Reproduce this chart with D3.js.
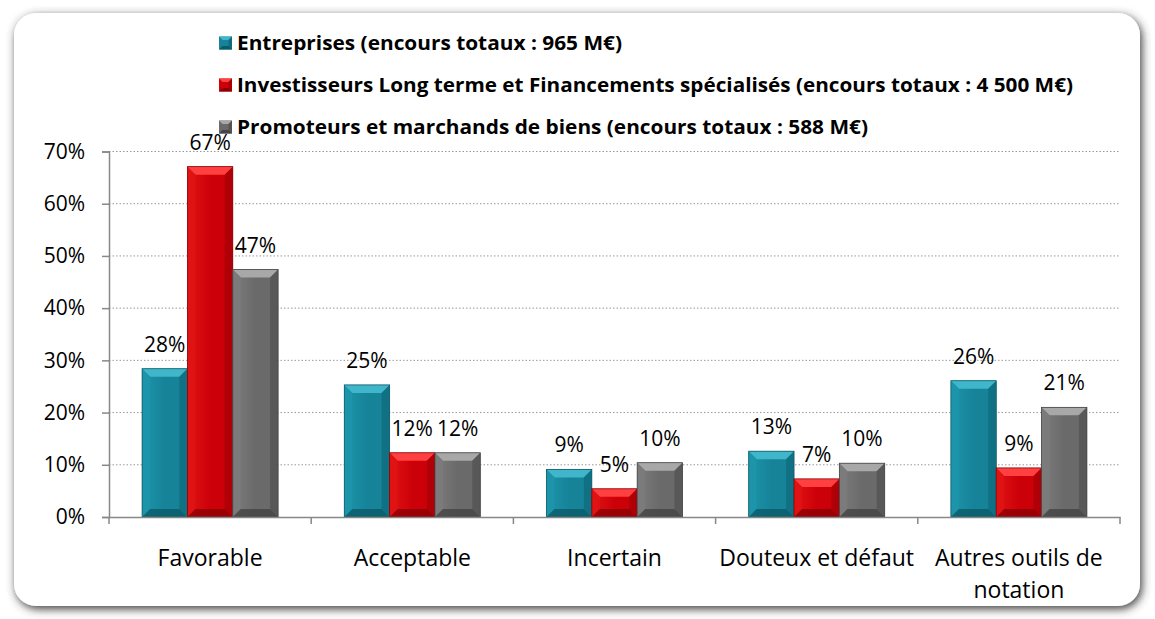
<!DOCTYPE html>
<html lang="fr">
<head>
<meta charset="UTF-8">
<title>Répartition des encours par notation</title>
<script src="https://d3js.org/d3.v7.min.js"></script>
<style>
  body { margin: 0; background: #fff; }
  svg text { font-family: "Open Sans", "Lato", sans-serif; fill: #000; }
  .legend text { font-weight: bold; font-size: 19px; }
  .axis-y text, .label { font-size: 21px; }
  .axis-x text { font-size: 23px; }
</style>
</head>
<body>
<svg id="chart"></svg>
<script>
// catégories et séries
var categories = ["Favorable", "Acceptable", "Incertain", "Douteux et défaut", "Autres outils de notation"];
var seriesNames = [
  "Entreprises (encours totaux : 965 M€)",
  "Investisseurs Long terme et Financements spécialisés (encours totaux : 4 500 M€)",
  "Promoteurs et marchands de biens (encours totaux : 588 M€)"
];
var entreprises = [28.4, 25.3, 9.1, 12.6, 26.1];
var investisseurs = [67.1, 12.3, 5.4, 7.3, 9.4];
var promoteurs = [47.4, 12.3, 10.4, 10.3, 21.0];
var yTicks = [0, 10, 20, 30, 40, 50, 60, 70];

var width = 1155, height = 619;
var margin = { left: 109, right: 35, top: 151.5, bottom: 102 };

var colors = [
  { face: "#168399", light: "#3fb6ca", mid: "#1d95aa", dark: "#0f6d7e", darker: "#0b5a68" },
  { face: "#cc0008", light: "#ff4040", mid: "#e01414", dark: "#a80007", darker: "#8c0005" },
  { face: "#6a6a6a", light: "#a8a8a8", mid: "#7c7c7c", dark: "#545454", darker: "#444444" }
];

var svg = d3.select("#chart").attr("width", width).attr("height", height);

// ombre du cadre
var defs = svg.append("defs");
var f = defs.append("filter").attr("id", "shadow")
  .attr("x", "-5%").attr("y", "-5%").attr("width", "110%").attr("height", "110%");
f.append("feDropShadow").attr("dx", 2).attr("dy", 3).attr("stdDeviation", 5)
  .attr("flood-color", "#333").attr("flood-opacity", 0.95);

// dégradé horizontal du visage des barres
colors.forEach(function(c, i) {
  var gr = defs.append("linearGradient").attr("id", "face" + i)
    .attr("x1", 0).attr("x2", 1).attr("y1", 0).attr("y2", 0);
  gr.append("stop").attr("offset", "0%").attr("stop-color", c.mid);
  gr.append("stop").attr("offset", "50%").attr("stop-color", c.face);
  gr.append("stop").attr("offset", "100%").attr("stop-color", c.face);
});

svg.append("rect")
  .attr("x", 14).attr("y", 13).attr("width", 1126).attr("height", 593)
  .attr("rx", 22).attr("ry", 22)
  .attr("fill", "#fff")
  .attr("filter", "url(#shadow)");

var data = [];
categories.forEach(function(c, i) {
  data.push({ cat: c, s: 0, v: entreprises[i] });
  data.push({ cat: c, s: 1, v: investisseurs[i] });
  data.push({ cat: c, s: 2, v: promoteurs[i] });
});

var x0 = d3.scaleBand().domain(categories)
  .range([margin.left, width - margin.right]);
var x1 = d3.scaleBand().domain([0, 1, 2])
  .range([0, x0.bandwidth()]).paddingOuter(0.73);
var y = d3.scaleLinear().domain([0, 70])
  .range([height - margin.bottom, margin.top]);

// grille pointillée
svg.append("g").selectAll("line")
  .data(yTicks.slice(1))
  .enter().append("line")
  .attr("x1", margin.left).attr("x2", width - margin.right)
  .attr("y1", function(d) { return y(d); })
  .attr("y2", function(d) { return y(d); })
  .attr("stroke", "#999").attr("stroke-width", 1)
  .attr("stroke-dasharray", "1.5,2");

// axe Y
var yAxis = svg.append("g").attr("class", "axis-y")
  .attr("transform", "translate(" + margin.left + ",0)")
  .call(d3.axisLeft(y).tickValues(yTicks).tickSize(7).tickPadding(17)
    .tickFormat(function(d) { return d + "%"; }));
yAxis.select(".domain").attr("stroke", "#888").attr("stroke-width", 1.5);
yAxis.selectAll(".tick line").attr("stroke", "#888").attr("stroke-width", 1.5);

// barres biseautées
var bev = 8;
function poly(pts) { return pts.map(function(p) { return p.join(","); }).join(" "); }

svg.append("g").selectAll("g")
  .data(data).enter().append("g")
  .each(function(d) {
    var g = d3.select(this);
    var c = colors[d.s];
    var x = x0(d.cat) + x1(d.s), w = x1.bandwidth();
    var top = y(d.v), bot = y(0);
    var b = Math.min(bev, (bot - top) / 2);
    g.append("rect").attr("x", x).attr("y", top).attr("width", w).attr("height", bot - top)
      .attr("fill", "url(#face" + d.s + ")");
    g.append("polygon").attr("points", poly([[x, top], [x + w, top], [x + w - b, top + b], [x + b, top + b]]))
      .attr("fill", c.light);
    g.append("polygon").attr("points", poly([[x, top], [x + b, top + b], [x + b, bot - b], [x, bot]]))
      .attr("fill", c.mid).attr("opacity", 0.8);
    g.append("polygon").attr("points", poly([[x + w, top], [x + w - b, top + b], [x + w - b, bot - b], [x + w, bot]]))
      .attr("fill", c.dark).attr("opacity", 0.8);
    g.append("polygon").attr("points", poly([[x, bot], [x + b, bot - b], [x + w - b, bot - b], [x + w, bot]]))
      .attr("fill", c.darker).attr("opacity", 0.8);
    g.append("rect").attr("x", x).attr("y", top).attr("width", w).attr("height", bot - top)
      .attr("fill", "none").attr("stroke", c.darker).attr("stroke-width", 0.8);
  });

// étiquettes de valeurs
svg.append("g").selectAll("text")
  .data(data).enter().append("text")
  .attr("class", "label")
  .attr("x", function(d) { return x0(d.cat) + x1(d.s) + x1.bandwidth() / 2; })
  .attr("y", function(d) { return y(d.v) - 17; })
  .attr("text-anchor", "middle")
  .text(function(d) { return Math.round(d.v) + "%"; });

// axe X
var xAxis = svg.append("g").attr("class", "axis-x")
  .attr("transform", "translate(0," + y(0) + ")")
  .call(d3.axisBottom(x0).tickSize(0).tickPadding(0));
xAxis.select(".domain").attr("stroke", "#888").attr("stroke-width", 1.5);
xAxis.selectAll(".tick text").remove();
var bounds = categories.map(function(c) { return x0(c); }).concat([x0.range()[1]]);
xAxis.selectAll(".sep").data(bounds).enter().append("line")
  .attr("x1", function(d) { return d; }).attr("x2", function(d) { return d; })
  .attr("y1", 0).attr("y2", 7).attr("stroke", "#888").attr("stroke-width", 1.5);

var catLines = [["Favorable"], ["Acceptable"], ["Incertain"], ["Douteux et défaut"], ["Autres outils de", "notation"]];
categories.forEach(function(c, i) {
  var cx = x0(c) + x0.bandwidth() / 2;
  var t = xAxis.append("text").attr("x", cx).attr("y", 49).attr("text-anchor", "middle");
  catLines[i].forEach(function(l, j) {
    t.append("tspan").attr("x", cx).attr("dy", j === 0 ? 0 : 32).text(l);
  });
});

// légende
var legend = svg.append("g").attr("class", "legend");
var legendY = [43, 85, 127];
var legendW = [385, 836, 631];
seriesNames.forEach(function(n, i) {
  var g = legend.append("g").attr("transform", "translate(219," + legendY[i] + ")");
  var c = colors[i];
  var s = 13, b = 3.5;
  g.append("rect").attr("x", 0).attr("y", -s / 2).attr("width", s).attr("height", s).attr("fill", c.face);
  g.append("polygon").attr("points", poly([[0, -s / 2], [s, -s / 2], [s - b, -s / 2 + b], [b, -s / 2 + b]])).attr("fill", c.light);
  g.append("polygon").attr("points", poly([[s, -s / 2], [s - b, -s / 2 + b], [s - b, s / 2 - b], [s, s / 2]])).attr("fill", c.dark);
  g.append("polygon").attr("points", poly([[0, s / 2], [b, s / 2 - b], [s - b, s / 2 - b], [s, s / 2]])).attr("fill", c.darker);
  g.append("text").attr("x", 18).attr("dy", "0.35em")
    .attr("textLength", legendW[i]).attr("lengthAdjust", "spacingAndGlyphs")
    .text(n);
});
</script>
</body>
</html>
